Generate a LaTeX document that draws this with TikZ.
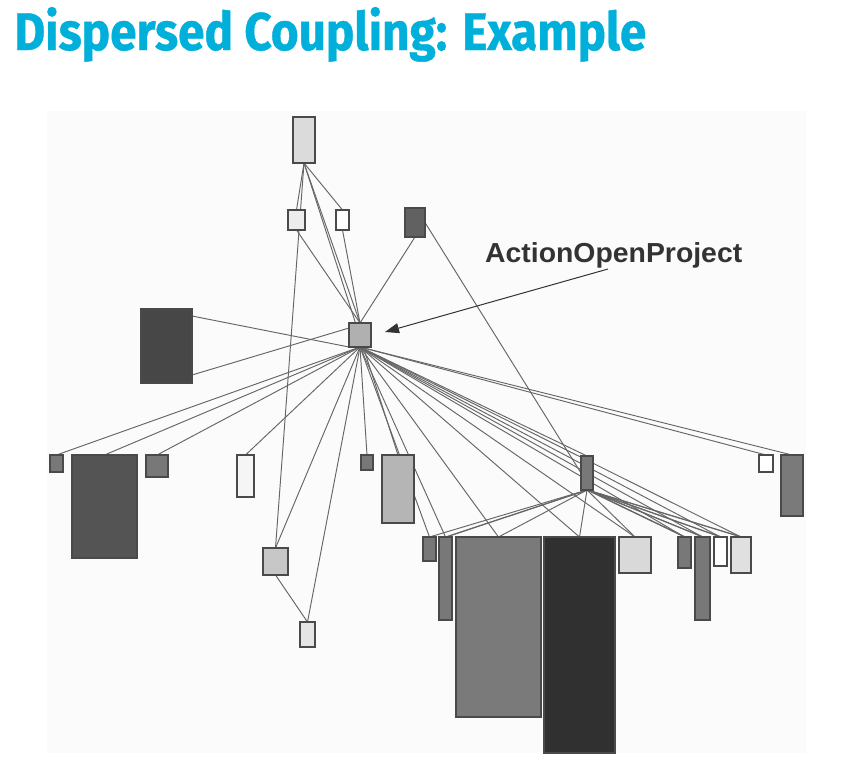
\documentclass[tikz,border=0pt]{standalone}
\usepackage{fontspec}
\setmainfont{Liberation Sans}
\newfontfamily\titlefont[BoldFeatures={FakeBold=0.8}]{Fira Sans}
\usetikzlibrary{arrows.meta,calc}
\definecolor{titlecyan}{HTML}{00B0DA}
\definecolor{labelgray}{HTML}{333333}
\definecolor{panelgray}{HTML}{FBFBFB}
\definecolor{edgegray}{HTML}{666666}
\definecolor{boxline}{HTML}{4A4A4A}
\pgfdeclarelayer{back}
\pgfdeclarelayer{edges}
\pgfsetlayers{back,edges,main}
\begin{document}
\begin{tikzpicture}[x=1pt,y=-1pt,
  box/.style={draw=boxline, line width=1.1pt, inner sep=0pt, outer sep=0pt},
  link/.style={draw=edgegray, line width=0.95pt},
  pointer/.style={draw=labelgray, line width=1pt, -{Triangle[length=14pt,width=10pt]}}]
\useasboundingbox (0,0) rectangle (854,766);
\begin{pgfonlayer}{back}
\fill[white] (0,0) rectangle (854,766);
\fill[panelgray] (47,111) rectangle (806,753);
\end{pgfonlayer}
% title
\node[anchor=base west, inner sep=0pt, text=titlecyan] (title) at (14,50)
  {\resizebox{632pt}{\height}{\titlefont\bfseries\fontsize{53}{53}\selectfont Dispersed Coupling: Example}};
% nodes
\node[box, fill=black!14, minimum width=22pt, minimum height=46pt] (T) at (304,140) {};
\node[box, fill=black!7, minimum width=17pt, minimum height=20pt] (A) at (296.5,220) {};
\node[box, fill=white, minimum width=13pt, minimum height=20pt] (B) at (342.5,220) {};
\node[box, fill=black!62, minimum width=20pt, minimum height=29pt] (C) at (415,222.5) {};
\node[box, fill=black!72, minimum width=51pt, minimum height=74pt] (L) at (166.5,346) {};
\node[box, fill=black!31, minimum width=22pt, minimum height=24pt] (H) at (360,335) {};
\node[box, fill=black!53, minimum width=13pt, minimum height=17pt] (n1) at (56.5,463.5) {};
\node[box, fill=black!67, minimum width=65pt, minimum height=103pt] (n2) at (104.5,506.5) {};
\node[box, fill=black!53, minimum width=22pt, minimum height=22pt] (n3) at (157,466) {};
\node[box, fill=black!4, minimum width=17pt, minimum height=42pt] (n4) at (245.5,476) {};
\node[box, fill=black!22, minimum width=25pt, minimum height=27pt] (n5) at (275.5,561.5) {};
\node[box, fill=black!10, minimum width=15pt, minimum height=25pt] (n6) at (307.5,634.5) {};
\node[box, fill=black!53, minimum width=12pt, minimum height=15pt] (n7) at (367,462.5) {};
\node[box, fill=black!29, minimum width=32pt, minimum height=68pt] (n8) at (398,489) {};
\node[box, fill=black!53, minimum width=13pt, minimum height=24pt] (n9) at (429.5,549) {};
\node[box, fill=black!53, minimum width=13pt, minimum height=83pt] (n10) at (445.5,578.5) {};
\node[box, fill=black!52, minimum width=85pt, minimum height=180pt] (n11) at (498.5,627) {};
\node[box, fill=black!81, minimum width=71pt, minimum height=216pt] (n12) at (579.5,645) {};
\node[box, fill=black!15, minimum width=32pt, minimum height=36pt] (n13) at (635,555) {};
\node[box, fill=black!53, minimum width=13pt, minimum height=31pt] (n14) at (684.5,552.5) {};
\node[box, fill=black!53, minimum width=15pt, minimum height=83pt] (n15) at (702.5,578.5) {};
\node[box, fill=white, minimum width=13pt, minimum height=29pt] (n16) at (720.5,551.5) {};
\node[box, fill=black!12, minimum width=20pt, minimum height=36pt] (n17) at (741,555) {};
\node[box, fill=black!53, minimum width=12pt, minimum height=34pt] (G) at (587,473) {};
\node[box, fill=white, minimum width=14pt, minimum height=17pt] (n18) at (766,463.5) {};
\node[box, fill=black!52, minimum width=22pt, minimum height=61pt] (n19) at (792,485.5) {};
% label and pointer
\node[anchor=base west, inner sep=0pt, text=labelgray] (lbl) at (485,262.5)
  {\resizebox{257pt}{\height}{\bfseries\fontsize{27.5}{28}\selectfont ActionOpenProject}};
\coordinate (arrS) at (608,269);
\coordinate (arrE) at (385,332);
\draw[pointer] (arrS) -- (arrE);
% connectors
\begin{pgfonlayer}{edges}
\foreach \t in {A,B,H,n5,n8} \draw[link] (T.south) -- (\t.north);
\draw[link] (A.south) -- (H.north);
\draw[link] (B.south) -- (H.north);
\draw[link] (C.south) -- (H.north);
\draw[link] (C.east) -- (G.west);
\draw[link] ([yshift=-7pt]L.north east) -- (H.south west);
\draw[link] ([yshift=8pt]L.south east) -- ([yshift=-5pt]H.north west);
\foreach \t in {n1,n2,n3,n4,n5,n6,n7,n9,n10,n11,n12,n13,G,n14,n15,n16,n17,n18,n19}
  \draw[link] (H.south) -- (\t.north);
\draw[link] (n5.south) -- (n6.north);
\foreach \t in {n9,n10,n11,n12,n13,n14,n15,n16,n17}
  \draw[link] (G.south) -- (\t.north);
\foreach \t in {n10,n14,n15,n16,n17}
  \draw[link] ([xshift=1pt]G.south) -- ([xshift=1pt]\t.north);
\end{pgfonlayer}
\end{tikzpicture}
\end{document}
